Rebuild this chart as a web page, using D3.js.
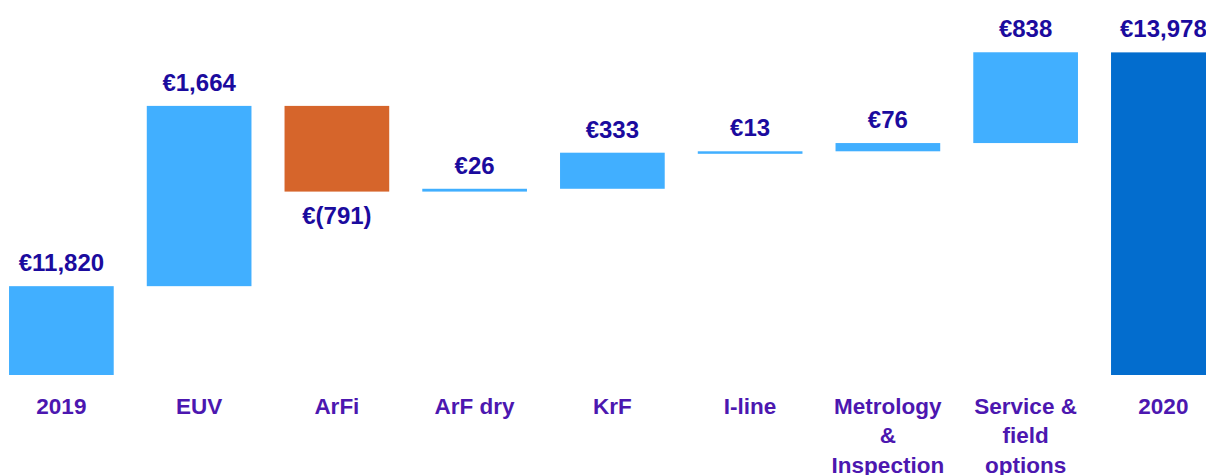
<!DOCTYPE html>
<html>
<head>
<meta charset="utf-8">
<script src="https://cdn.jsdelivr.net/npm/d3@7"></script>
<style>
  html, body { margin: 0; padding: 0; background: #fff; overflow: hidden; }
  svg { display: block; font-family: "Liberation Sans", Arial, Helvetica, sans-serif; }
</style>
</head>
<body>
<svg width="1206" height="475"></svg>
<script>
// net sales bridge 2019 -> 2020 (EUR m)
let categories = ["2019", "EUV", "ArFi", "ArF dry", "KrF", "I-line", "Metrology & Inspection", "Service & field options", "2020"];
let tickLines = [["2019"], ["EUV"], ["ArFi"], ["ArF dry"], ["KrF"], ["I-line"], ["Metrology", "&", "Inspection"], ["Service &", "field", "options"], ["2020"]];
let values = [11820, 1664, -791, 26, 333, 13, 76, 838, 13978];
let kinds = ["start", "delta", "delta", "delta", "delta", "delta", "delta", "delta", "total"];
let valueLabels = ["€11,820", "€1,664", "€(791)", "€26", "€333", "€13", "€76", "€838", "€13,978"];

let colors = { start: "#41AFFF", up: "#41AFFF", down: "#D6652B", total: "#036DCE" };

let svg = d3.select("svg");
let width = +svg.attr("width");
let height = +svg.attr("height");

// running totals for the waterfall
let rows = [];
let run = 0;
for (let i = 0; i < categories.length; i++) {
  let lo, hi, type;
  if (kinds[i] == "start") {
    lo = 11000; hi = values[i]; run = values[i]; type = "start";
  } else if (kinds[i] == "total") {
    lo = 11000; hi = values[i]; type = "total";
  } else {
    let next = run + values[i];
    lo = Math.min(run, next); hi = Math.max(run, next);
    type = values[i] < 0 ? "down" : "up";
    run = next;
  }
  rows.push({ cat: categories[i], lo: lo, hi: hi, type: type, label: valueLabels[i], lines: tickLines[i] });
}

let x = d3.scaleBand()
  .domain(categories)
  .range([-7.5, 1232.25])
  .paddingInner(0.24)
  .paddingOuter(0.12);

let y = d3.scaleLinear()
  .domain([11000, 14000])
  .range([375, 50]);

let g = svg.append("g");

g.selectAll("rect")
  .data(rows)
  .enter()
  .append("rect")
  .attr("x", d => x(d.cat))
  .attr("width", x.bandwidth())
  .attr("y", d => y(d.hi))
  .attr("height", d => Math.max(2.5, y(d.lo) - y(d.hi)))
  .attr("fill", d => colors[d.type]);

g.selectAll("text.val")
  .data(rows)
  .enter()
  .append("text")
  .attr("class", "val")
  .attr("x", d => x(d.cat) + x.bandwidth() / 2)
  .attr("y", d => d.type == "down" ? y(d.lo) + 32 : y(d.hi) - 15)
  .attr("text-anchor", "middle")
  .attr("font-size", 24)
  .attr("font-weight", "bold")
  .attr("fill", "#1B0B9E")
  .text(d => d.label);

// category labels, wrapped like the original
let ticks = g.selectAll("text.cat")
  .data(rows)
  .enter()
  .append("text")
  .attr("class", "cat")
  .attr("text-anchor", "middle")
  .attr("font-size", 22.5)
  .attr("font-weight", "bold")
  .attr("fill", "#4C17B0");

ticks.selectAll("tspan")
  .data(d => d.lines.map(l => ({ l: l, cx: x(d.cat) + x.bandwidth() / 2 })))
  .enter()
  .append("tspan")
  .attr("x", d => d.cx)
  .attr("y", (d, i) => 414 + i * 29.3)
  .text(d => d.l);
</script>
</body>
</html>
